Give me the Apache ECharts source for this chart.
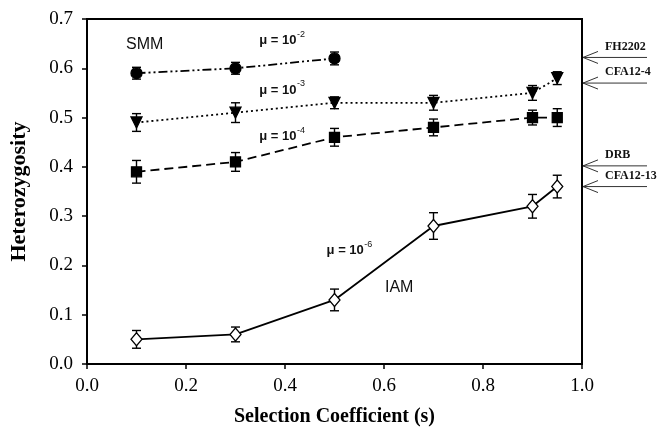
<!DOCTYPE html>
<html><head><meta charset="utf-8">
<script src="https://cdn.jsdelivr.net/npm/echarts@6/dist/echarts.min.js"></script>
<style>html,body{margin:0;padding:0;background:#fff}#c{width:667px;height:443px}</style>
</head><body><div id="c"></div>
<script>
// ---- data ----
const selX = [0.1, 0.3, 0.5, 0.7, 0.9, 0.95];
const smm2 = [0.59, 0.60, 0.62];
const smm2Err = [0.012, 0.012, 0.013];
const smm3 = [0.49, 0.51, 0.53, 0.53, 0.55, 0.58];
const smm3Err = [0.018, 0.020, 0.012, 0.015, 0.015, 0.013];
const smm4 = [0.39, 0.41, 0.46, 0.48, 0.50, 0.50];
const smm4Err = [0.023, 0.019, 0.018, 0.017, 0.015, 0.018];
const iam6 = [0.05, 0.06, 0.13, 0.28, 0.32, 0.36];
const iam6Err = [0.018, 0.015, 0.022, 0.027, 0.024, 0.023];
const lociNames = ['FH2202', 'CFA12-4', 'DRB', 'CFA12-13'];
const lociH = [0.622, 0.570, 0.402, 0.360];
const xTickLabels = ['0.0', '0.2', '0.4', '0.6', '0.8', '1.0'];
const yTickLabels = ['0.0', '0.1', '0.2', '0.3', '0.4', '0.5', '0.6', '0.7'];
// annotations: [text, sup, x, y]
const muNotes = [['\u03bc = 10', '-2', 0.348, 0.657], ['\u03bc = 10', '-3', 0.348, 0.556], ['\u03bc = 10', '-4', 0.348, 0.4615], ['\u03bc = 10', '-6', 0.484, 0.23]];
const modelNotes = [['SMM', 0.079, 0.649], ['IAM', 0.602, 0.155]];

const serif = '"Liberation Serif","Times New Roman",serif';
const sans = '"Liberation Sans",Arial,sans-serif';

function pairs(xs, ys) { return ys.map((v, i) => [xs[i], v]); }
function errs(xs, ys, es) { return ys.map((v, i) => [xs[i], v - es[i], v + es[i]]); }

function errRender(params, api) {
  const x = api.value(0), lo = api.value(1), hi = api.value(2);
  const p1 = api.coord([x, hi]), p2 = api.coord([x, lo]);
  const w = 4.5, st = { stroke: '#000', lineWidth: 1.4 };
  return { type: 'group', children: [
    { type: 'line', shape: { x1: p1[0], y1: p1[1], x2: p2[0], y2: p2[1] }, style: st },
    { type: 'line', shape: { x1: p1[0] - w, y1: p1[1], x2: p1[0] + w, y2: p1[1] }, style: st },
    { type: 'line', shape: { x1: p2[0] - w, y1: p2[1], x2: p2[0] + w, y2: p2[1] }, style: st }
  ]};
}
function errSeries(data) {
  return { type: 'custom', renderItem: errRender, data: data, z: 1, silent: true };
}
function lineSeries(data, dash, symbol, size, fill, rotate) {
  return {
    type: 'line', data: data, symbol: symbol, symbolSize: size, symbolRotate: rotate || 0,
    lineStyle: { color: '#000', width: 1.8, type: dash },
    itemStyle: { color: fill, borderColor: '#000', borderWidth: 1.3 },
    z: 3, silent: true
  };
}

const chart = echarts.init(document.getElementById('c'), null, { renderer: 'canvas' });
chart.setOption({
  animation: false,
  backgroundColor: '#fff',
  grid: { left: 87, right: 85, top: 19, bottom: 79, show: true, borderColor: '#000', borderWidth: 2, backgroundColor: 'transparent' },
  xAxis: {
    type: 'value', min: 0, max: 1, interval: 0.2,
    name: 'Selection Coefficient (s)', nameLocation: 'middle', nameGap: 43,
    nameTextStyle: { fontFamily: serif, fontWeight: 'bold', fontSize: 20, color: '#000' },
    axisLine: { show: true, onZero: false, lineStyle: { color: '#000', width: 2 } },
    axisTick: { show: true, inside: false, length: 5, lineStyle: { color: '#000', width: 1.5 } },
    axisLabel: { margin: 13, fontFamily: serif, fontSize: 19, color: '#000',
      formatter: (v) => xTickLabels[Math.round(v / 0.2)] },
    splitLine: { show: false }
  },
  yAxis: {
    type: 'value', min: 0, max: 0.7, interval: 0.1,
    name: 'Heterozygosity', nameLocation: 'middle', nameGap: 57, nameRotate: 90,
    nameTextStyle: { fontFamily: serif, fontWeight: 'bold', fontSize: 22, color: '#000' },
    axisLine: { show: true, onZero: false, lineStyle: { color: '#000', width: 2 } },
    axisTick: { show: true, inside: false, length: 5, lineStyle: { color: '#000', width: 1.5 } },
    axisLabel: { margin: 14, fontFamily: serif, fontSize: 19, color: '#000',
      formatter: (v) => yTickLabels[Math.round(v / 0.1)] },
    splitLine: { show: false }
  },
  series: [
    errSeries(errs(selX, smm2, smm2Err)),
    errSeries(errs(selX, smm3, smm3Err)),
    errSeries(errs(selX, smm4, smm4Err)),
    errSeries(errs(selX, iam6, iam6Err)),
    lineSeries(pairs(selX, smm2), [9, 3, 2, 3, 2, 3], 'circle', 11, '#000'),
    lineSeries(pairs(selX, smm3), [2, 3], 'triangle', 11, '#000', 180),
    lineSeries(pairs(selX, smm4), [9, 5], 'rect', 10, '#000'),
    lineSeries(pairs(selX, iam6), 'solid', 'diamond', [11, 13], '#fff')
  ]
});

// ---- annotations ----
const mctx = document.createElement('canvas').getContext('2d');
function textW(font, s) { mctx.font = font; return mctx.measureText(s).width; }
const g = [];
const muFont = 'bold 13px ' + sans;
muNotes.forEach(([t, s, x, y]) => {
  const p = chart.convertToPixel({ gridIndex: 0 }, [x, y]);
  g.push({ type: 'text', x: p[0], y: p[1], style: { text: t, font: muFont, fill: '#111', align: 'left', verticalAlign: 'middle', textAlign: 'left', textVerticalAlign: 'middle' }, z: 10 });
  const w = textW(muFont, t);
  g.push({ type: 'text', x: p[0] + w + 0.5, y: p[1] - 6, style: { text: s, font: '9px ' + sans, fill: '#111', align: 'left', verticalAlign: 'middle', textAlign: 'left', textVerticalAlign: 'middle' }, z: 10 });
});
modelNotes.forEach(([t, x, y]) => {
  const p = chart.convertToPixel({ gridIndex: 0 }, [x, y]);
  g.push({ type: 'text', x: p[0], y: p[1], style: { text: t, font: '16px ' + sans, fill: '#111', align: 'left', verticalAlign: 'middle', textAlign: 'left', textVerticalAlign: 'middle' }, z: 10 });
});
lociNames.forEach((name, i) => {
  const p = chart.convertToPixel({ gridIndex: 0 }, [1.0, lociH[i]]);
  const x0 = p[0] + 1, y0 = p[1];
  const st = { stroke: '#333', lineWidth: 1 };
  g.push({ type: 'line', shape: { x1: x0, y1: y0, x2: x0 + 64, y2: y0 }, style: st, z: 10 });
  g.push({ type: 'line', shape: { x1: x0, y1: y0, x2: x0 + 15, y2: y0 - 6 }, style: st, z: 10 });
  g.push({ type: 'line', shape: { x1: x0, y1: y0, x2: x0 + 15, y2: y0 + 6 }, style: st, z: 10 });
  g.push({ type: 'text', x: x0 + 22, y: y0 - 5, style: { text: name, font: 'bold 12px ' + serif, fill: '#111', align: 'left', verticalAlign: 'bottom', textAlign: 'left', textVerticalAlign: 'bottom' }, z: 10 });
});
chart.setOption({ graphic: g });
</script>
</body></html>
